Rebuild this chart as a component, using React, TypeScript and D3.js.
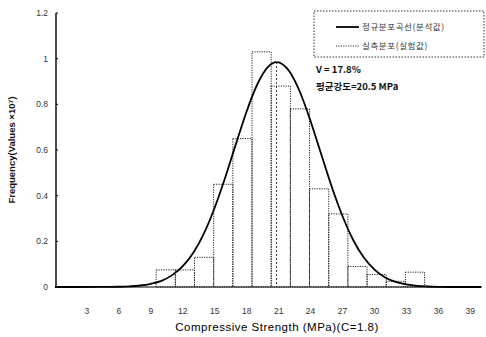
import React from "react";
import * as d3 from "d3";

// ---- data ----
const binLower = [9.5, 11.3, 13.1, 14.9, 16.7, 18.5, 20.3, 22.1, 23.9, 25.7, 27.5, 29.3, 31.1, 32.9];
const binWidth = 1.8;
const binFreq = [0.075, 0.075, 0.13, 0.45, 0.65, 1.03, 0.88, 0.78, 0.43, 0.32, 0.09, 0.055, 0.025, 0.065];

const curveX = [0, 2, 4, 5, 6, 7, 8, 9, 10, 11, 12, 13, 14, 15, 16, 17, 18, 19, 20, 20.8, 22, 23, 24, 25, 26, 27, 28, 29, 30, 31, 32, 33, 34, 35, 36, 38, 40];
const curveY = [0, 0, 0.0002, 0.0005, 0.0012, 0.003, 0.0065, 0.014, 0.027, 0.052, 0.091, 0.151, 0.236, 0.348, 0.482, 0.628, 0.77, 0.888, 0.964, 0.985, 0.945, 0.854, 0.726, 0.581, 0.437, 0.31, 0.206, 0.129, 0.076, 0.042, 0.022, 0.011, 0.005, 0.0022, 0.0009, 0, 0];

const meanStrength = 20.8;
const meanPeak = 0.985;

const xTicks = [3, 6, 9, 12, 15, 18, 21, 24, 27, 30, 33, 36, 39];
const yTicks = [0, 0.2, 0.4, 0.6, 0.8, 1, 1.2];
const yTickLabels = ["0", "0.2", "0.4", "0.6", "0.8", "1", "1.2"];

const legendLabels = ["정규분포곡선(분석값)", "실측분포(실험값)"];
const noteLines = ["V = 17.8%", "평균강도=20.5 MPa"];
const xTitle = "Compressive Strength  (MPa)(C=1.8)";
const yTitle = "Frequency(Values ×10\u2077)";

const W = 486;
const H = 337;

export default function App() {
  const x = d3.scaleLinear().domain([0, 40]).range([55, 481]);
  const y = d3.scaleLinear().domain([0, 1.2]).range([287, 13]);

  const pts: [number, number][] = curveX.map((v, i) => [v, curveY[i]]);
  const line = d3
    .line<[number, number]>()
    .x((d) => x(d[0]))
    .y((d) => y(d[1]))
    .curve(d3.curveMonotoneX);

  const sans = "Liberation Sans, Arial, sans-serif";
  const kr = "'Noto Sans CJK KR', 'Liberation Sans', sans-serif";

  return (
    <svg
      width={W}
      height={H}
      style={{ position: "absolute", left: 0, top: 0, background: "#fff" }}
    >
      <rect x={0} y={0} width={W} height={H} fill="#fff" />
      {/* bars */}
      {binLower.map((b, i) => (
        <rect
          key={i}
          x={x(b)}
          y={y(binFreq[i])}
          width={x(b + binWidth) - x(b)}
          height={y(0) - y(binFreq[i])}
          fill="none"
          stroke="#222"
          strokeWidth={1}
          strokeDasharray="1.2,1.2"
        />
      ))}
      {/* mean line */}
      <line
        x1={x(meanStrength)}
        x2={x(meanStrength)}
        y1={y(meanPeak)}
        y2={y(0)}
        stroke="#333"
        strokeWidth={1}
        strokeDasharray="2,2"
      />
      {/* axes */}
      <line x1={56} x2={56} y1={y(1.2)} y2={y(0)} stroke="#000" strokeWidth={1.4} />
      <line x1={56} x2={482} y1={y(0)} y2={y(0)} stroke="#000" strokeWidth={1} />
      {yTicks.map((t, i) => (
        <g key={i}>
          <line x1={56} x2={58} y1={y(t)} y2={y(t)} stroke="#000" strokeWidth={1} />
          <text
            x={48}
            y={y(t)}
            dy="0.35em"
            textAnchor="end"
            fontFamily={sans}
            fontSize={8.5}
            fill="#333"
          >
            {yTickLabels[i]}
          </text>
        </g>
      ))}
      {xTicks.map((t, i) => (
        <text
          key={i}
          x={x(t)}
          y={314}
          textAnchor="middle"
          fontFamily={sans}
          fontSize={8.5}
          fill="#333"
        >
          {t}
        </text>
      ))}
      {/* curve */}
      <path d={line(pts) || ""} fill="none" stroke="#000" strokeWidth={1.8} />
      {/* titles */}
      <text
        x={277}
        y={331}
        textAnchor="middle"
        fontFamily={sans}
        fontSize={11.5}
        letterSpacing={0.5}
        fill="#000"
      >
        {xTitle}
      </text>
      <text
        transform="translate(15,150) rotate(-90)"
        textAnchor="middle"
        fontFamily={sans}
        fontSize={9.5}
        fontWeight="bold"
        fill="#111"
      >
        {yTitle}
      </text>
      {/* legend */}
      <rect
        x={314}
        y={11}
        width={170}
        height={46}
        fill="#fff"
        stroke="#333"
        strokeWidth={1}
        strokeDasharray="1.5,1.5"
      />
      <line x1={336} x2={359} y1={27} y2={27} stroke="#000" strokeWidth={1.8} />
      <text x={362} y={27} dy="0.35em" fontFamily={kr} fontSize={8.5} letterSpacing={0.6} fill="#333">
        {legendLabels[0]}
      </text>
      <line
        x1={336}
        x2={359}
        y1={46}
        y2={46}
        stroke="#333"
        strokeWidth={1}
        strokeDasharray="1.2,1.2"
      />
      <text x={362} y={46} dy="0.35em" fontFamily={kr} fontSize={8.5} letterSpacing={0.6} fill="#333">
        {legendLabels[1]}
      </text>
      {/* notes */}
      <text x={316} y={73} fontFamily={kr} fontSize={9.5} fontWeight="bold" fill="#111">
        {noteLines[0]}
      </text>
      <text x={316} y={90} fontFamily={kr} fontSize={9.5} fontWeight="bold" fill="#111">
        {noteLines[1]}
      </text>
    </svg>
  );
}
